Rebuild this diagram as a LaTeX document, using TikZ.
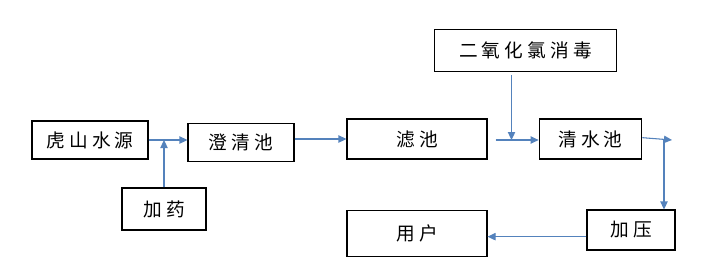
\documentclass[tikz,border=0pt]{standalone}
\usepackage{fontspec}
\newfontfamily\cjk[LetterSpace=22]{Noto Sans CJK SC}
\usepackage{tikz}
\usetikzlibrary{arrows.meta, positioning}
\definecolor{flowblue}{RGB}{84,130,188}

\begin{document}
\begin{tikzpicture}[
      x=0.75pt, y=-0.75pt,
      >={Triangle[length=6pt, width=5.5pt]},
      box/.style={rectangle, draw=black, line width=0.8pt, inner sep=0pt, align=center, font=\cjk\fontsize{14pt}{16pt}\selectfont},
      flow/.style={->, draw=flowblue, fill=flowblue, line width=0.8pt}
  ]
      \useasboundingbox (0,0) rectangle (712,262);

      % Treatment line
      \node[box, minimum width=87pt, minimum height=28.5pt] (src) at (90,140) {虎山水源};
      \node[box, minimum width=79.5pt, minimum height=29pt] (clar) at (241,142.5) {澄清池};
      \node[box, minimum width=105pt, minimum height=30pt] (filt) at (417,139) {滤池};
      \node[box, minimum width=77pt, minimum height=30pt] (clear) at (590.5,139) {清水池};

      % Dosing
      \node[box, minimum width=63pt, minimum height=31.5pt] (dose) at (164,209) {加药};
      \node[box, minimum width=137pt, minimum height=32pt] (clo2) at (525.5,50.5) {二氧化氯消毒};

      % Supply
      \node[box, minimum width=66pt, minimum height=30pt] (pump) at (631,230) {加压};
      \node[box, minimum width=105pt, minimum height=35pt] (user) at (417,233.5) {用户};

      \coordinate (join) at (511.5,140);
      \coordinate (turn) at (664,140);
      \coordinate (out) at (672,140);

      \draw[flow] (src.east) -- (src.east -| clar.west);
      \draw[flow] (dose.north) -- (dose.north |- src.east);
      \draw[flow] (clar.east |- filt.west) -- (filt.west);
      \draw[flow] ([xshift=6pt]filt.east |- join) -- (clear.west |- join);
      \draw[flow] ([yshift=-2pt]clo2.south -| join) -- (join);
      \draw[flow] ([yshift=1pt]clear.east) -- (out);
      \draw[flow] (turn) -- (turn |- pump.north);
      \draw[flow] ([yshift=-5pt]pump.west) -- ([yshift=-5pt]pump.west -| user.east);

  \end{tikzpicture}
\end{document}
